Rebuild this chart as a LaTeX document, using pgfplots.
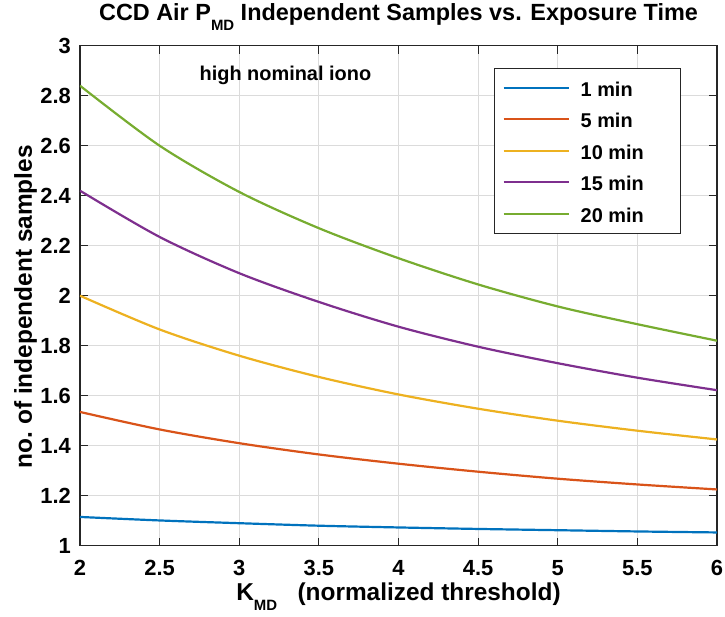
\documentclass[border=0pt]{standalone}
\usepackage{pgfplots}
\pgfplotsset{compat=1.18}
\usepackage{fontspec}
\setmainfont{Liberation Sans}
\setsansfont{Liberation Sans}
\definecolor{mblue}{rgb}{0,0.447,0.741}
\definecolor{morange}{rgb}{0.85,0.325,0.098}
\definecolor{myellow}{rgb}{0.929,0.694,0.125}
\definecolor{mpurple}{rgb}{0.494,0.184,0.556}
\definecolor{mgreen}{rgb}{0.466,0.674,0.188}
\definecolor{axgray}{rgb}{0.15,0.15,0.15}
\newcommand{\sub}[1]{\raisebox{-10bp}{\fontsize{15}{15}\selectfont #1}}
\begin{document}
\begin{tikzpicture}
\useasboundingbox (-80bp,-71.3bp) rectangle (645bp,545.7bp);
\begin{axis}[
  at={(0,0)}, anchor=south west,
  scale only axis, width=637bp, height=500bp,
  xmin=2, xmax=6, ymin=1, ymax=3,
  xtick={2,2.5,3,3.5,4,4.5,5,5.5,6},
  ytick={1,1.2,1.4,1.6,1.8,2,2.2,2.4,2.6,2.8,3},
  /pgf/number format/assume math mode=true,
  ticklabel style={font=\bfseries\fontsize{22}{26}\selectfont, text=black},
  xticklabel style={anchor=base, inner sep=0pt, yshift=-29.3bp},
  yticklabel style={anchor=east, inner sep=0pt, xshift=-9bp},
  grid=major,
  major grid style={black!14, line width=0.8bp},
  tick align=inside,
  major tick length=8bp,
  tick style={axgray, line width=1bp},
  axis line style={axgray, line width=1.1bp},
  title={CCD Air P\sub{MD} Independent Samples vs. Exposure Time},
  title style={font=\bfseries\fontsize{23.5}{27}\selectfont, at={(axis description cs:0.5,1)}, anchor=base, inner sep=0pt, yshift=19bp},
  xlabel={K\sub{MD}\ \ \ (normalized threshold)},
  xlabel style={font=\bfseries\fontsize{24.5}{28}\selectfont, at={(axis description cs:0.5,0)}, anchor=base, inner sep=0pt, yshift=-54.3bp},
  ylabel={no.\ of independent samples},
  ylabel style={font=\bfseries\fontsize{24.5}{28}\selectfont, at={(axis description cs:-0.0856,0.478)}, anchor=center, inner sep=0pt},
  every axis plot/.append style={line width=2.2bp},
  legend style={at={(1,1)}, anchor=north east, xshift=-36bp, yshift=-22bp,
    draw=axgray, line width=1bp, fill=white,
    font=\bfseries\fontsize{20}{24}\selectfont,
    nodes={inner sep=0pt, text height=20.8bp, text depth=4bp},
    row sep=6.7bp, column sep=11bp, inner xsep=7.7bp, inner ysep=7.2bp,
    cells={anchor=base west}},
  legend image code/.code={\draw[#1, line width=2.2bp] (0bp,8.4bp) -- (65bp,8.4bp);},
]
\addplot[mblue, smooth] coordinates {(2,1.115) (2.5,1.101) (3,1.090) (3.5,1.080) (4,1.073) (4.5,1.067) (5,1.062) (5.5,1.057) (6,1.053)};
\addlegendentry{1 min}
\addplot[morange, smooth] coordinates {(2,1.535) (2.5,1.465) (3,1.410) (3.5,1.365) (4,1.328) (4.5,1.296) (5,1.268) (5.5,1.245) (6,1.225)};
\addlegendentry{5 min}
\addplot[myellow, smooth] coordinates {(2,2.0) (2.5,1.865) (3,1.760) (3.5,1.675) (4,1.605) (4.5,1.548) (5,1.500) (5.5,1.460) (6,1.425)};
\addlegendentry{10 min}
\addplot[mpurple, smooth] coordinates {(2,2.42) (2.5,2.235) (3,2.09) (3.5,1.975) (4,1.876) (4.5,1.796) (5,1.730) (5.5,1.672) (6,1.622)};
\addlegendentry{15 min}
\addplot[mgreen, smooth] coordinates {(2,2.84) (2.5,2.60) (3,2.415) (3.5,2.27) (4,2.15) (4.5,2.045) (5,1.957) (5.5,1.886) (6,1.82)};
\addlegendentry{20 min\hspace*{29bp}}
\node[anchor=west, font=\bfseries\fontsize{20}{24}\selectfont, inner sep=0pt] at (axis cs:2.75,2.883) {high nominal iono};
\end{axis}
\end{tikzpicture}
\end{document}
